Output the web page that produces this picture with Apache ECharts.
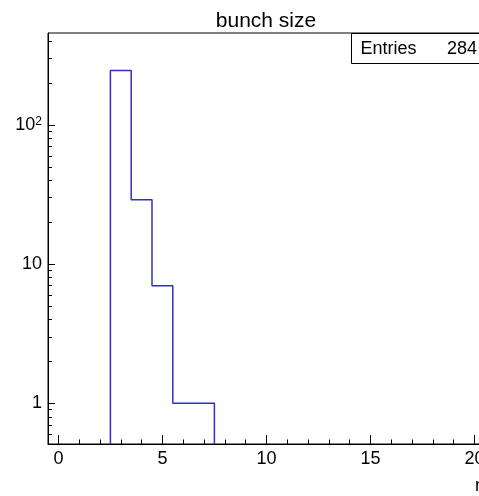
<!DOCTYPE html>
<html>
<head>
<meta charset="utf-8">
<script src="https://cdn.jsdelivr.net/npm/echarts@6/dist/echarts.min.js"></script>
<style>
html,body{margin:0;padding:0;background:#fff;}
#chart{width:479px;height:496px;}
</style>
</head>
<body>
<div id="chart"></div>
<script>
// ---- data ----
const binLowEdges = [2.5, 3.5, 4.5, 5.5, 6.5];
const binWidth = 1;
const binCounts = [246, 29, 7, 1, 1];
const xMajorTicks = [0, 5, 10, 15, 20];
const xMinorTicks = [1,2,3,4,6,7,8,9,11,12,13,14,16,17,18,19];
const yMajorTicks = [1, 10, 100];
const yMinorTicks = [0.6,0.7,0.8,0.9,2,3,4,5,6,7,8,9,20,30,40,50,60,70,80,90,200,300,400];
const titleText = 'bunch size';
const statsLabel = 'Entries';
const statsValue = '284';
const xTitle = 'n';

const xMin = -0.5, xMax = 20.5;
const yMin = 0.51, yMax = 457;

// build histogram outline from bins
const outline = [];
outline.push([binLowEdges[0], yMin]);
binLowEdges.forEach((lo, i) => {
  outline.push([lo, binCounts[i]]);
  outline.push([lo + binWidth, binCounts[i]]);
});
outline.push([binLowEdges[binLowEdges.length - 1] + binWidth, yMin]);

const FONT = '"Liberation Sans", Arial, Helvetica, sans-serif';
const chart = echarts.init(document.getElementById('chart'), null, {renderer: 'canvas'});

const gridLeft = 48, gridTop = 33, gridWidth = 436.8, gridHeight = 411;

chart.setOption({
  animation: false,
  backgroundColor: '#fff',
  grid: {left: gridLeft, top: gridTop, width: gridWidth, height: gridHeight,
         outerBoundsMode: 'none', containLabel: false,
         show: true, borderColor: '#000', borderWidth: 1, backgroundColor: 'transparent'},
  xAxis: [
    {type: 'value', min: xMin, max: xMax, position: 'bottom',
     axisLine: {show: true, onZero: false, lineStyle: {color: '#000', width: 1}},
     splitLine: {show: false},
     axisTick: {show: true, inside: true, length: 9, lineStyle: {color: '#000'}, customValues: xMajorTicks},
     axisLabel: {show: true, margin: 6, color: '#000', fontSize: 18, fontFamily: FONT, customValues: xMajorTicks}},
    {type: 'value', min: xMin, max: xMax, position: 'bottom',
     axisLine: {show: false, onZero: false},
     splitLine: {show: false},
     axisTick: {show: true, inside: true, length: 4.5, lineStyle: {color: '#000'}, customValues: xMinorTicks},
     axisLabel: {show: false}}
  ],
  yAxis: [
    {type: 'log', min: yMin, max: yMax, logBase: 10, position: 'left',
     axisLine: {show: true, onZero: false, lineStyle: {color: '#000', width: 1}},
     splitLine: {show: false},
     axisTick: {show: true, inside: true, length: 7, lineStyle: {color: '#000'}, customValues: yMajorTicks},
     axisLabel: {show: true, margin: 6, color: '#000', fontSize: 18, fontFamily: FONT,
       customValues: yMajorTicks,
       formatter: function (v) {
         const e = Math.round(Math.log10(v));
         if (e <= 1) return String(Math.round(v));
         return '10{sup|' + e + '}';
       },
       rich: {sup: {fontSize: 12, fontFamily: FONT, color: '#000', verticalAlign: 'top', lineHeight: 14, padding: [0, 0, 10, 0]}}
     }},
    {type: 'log', min: yMin, max: yMax, logBase: 10, position: 'left',
     axisLine: {show: false, onZero: false},
     splitLine: {show: false},
     axisTick: {show: true, inside: true, length: 4, lineStyle: {color: '#000'}, customValues: yMinorTicks},
     axisLabel: {show: false}}
  ],
  series: [{
    type: 'line', xAxisIndex: 0, yAxisIndex: 0,
    data: outline, showSymbol: false, symbol: 'none',
    lineStyle: {color: '#2f2fc8', width: 1.5},
    clip: true
  }],
  graphic: [
    {type: 'text', x: 266, y: 21,
     style: {text: titleText, fill: '#000', font: '21px ' + FONT, align: 'center', verticalAlign: 'middle'}},
    {type: 'rect', x: 0, y: 0, shape: {x: 351.5, y: 33.5, width: 200, height: 30},
     style: {fill: '#fff', stroke: '#000', lineWidth: 1}, z: 10},
    {type: 'text', x: 360.5, y: 49,
     style: {text: statsLabel, fill: '#000', font: '18px ' + FONT, align: 'left', verticalAlign: 'middle'}, z: 11},
    {type: 'text', x: 447, y: 49,
     style: {text: statsValue, fill: '#000', font: '18px ' + FONT, align: 'left', verticalAlign: 'middle'}, z: 11},
    {type: 'text', x: 475, y: 486,
     style: {text: xTitle, fill: '#000', font: '18px ' + FONT, align: 'left', verticalAlign: 'middle'}}
  ]
});
</script>
</body>
</html>
